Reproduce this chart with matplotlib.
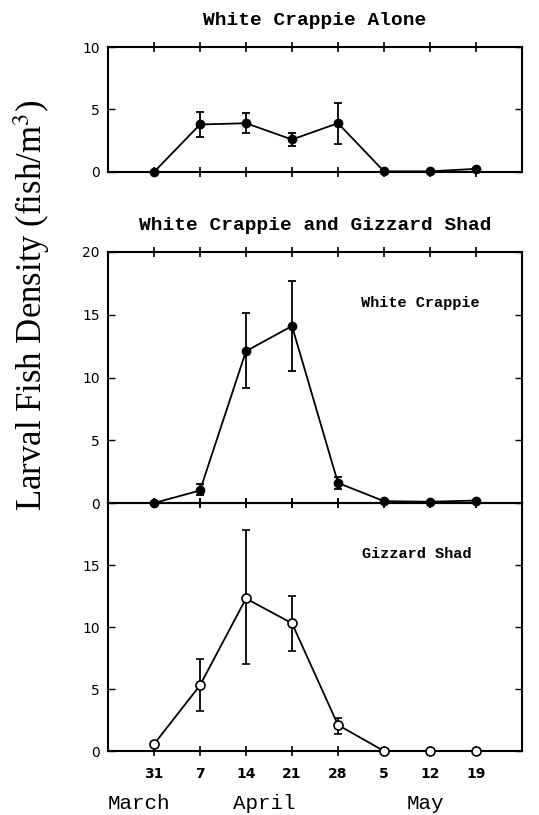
import numpy as np
import matplotlib
matplotlib.use('Agg')
import matplotlib.pyplot as plt

plt.rcParams['mathtext.fontset'] = 'stix'

# sampling dates (weekly, 31 March - 19 May)
dates = ['31', '7', '14', '21', '28', '5', '12', '19']
months = ['March', 'April', 'May']
month_pos = [0.68, 3.4, 6.9]

# White Crappie alone
wc_alone = [0.0, 3.8, 3.9, 2.6, 3.9, 0.05, 0.05, 0.25]
wc_alone_lo = [0.0, 1.0, 0.8, 0.5, 1.7, 0.0, 0.0, 0.0]
wc_alone_hi = [0.0, 1.0, 0.8, 0.5, 1.6, 0.0, 0.0, 0.0]

# White Crappie with Gizzard Shad
wc_mixed = [0.0, 1.0, 12.1, 14.1, 1.6, 0.15, 0.1, 0.2]
wc_mixed_lo = [0.0, 0.4, 2.9, 3.6, 0.45, 0.0, 0.0, 0.0]
wc_mixed_hi = [0.0, 0.55, 3.0, 3.6, 0.45, 0.0, 0.0, 0.0]

# Gizzard Shad with White Crappie
gs_mixed = [0.55, 5.3, 12.3, 10.3, 2.1, 0.0, 0.0, 0.0]
gs_mixed_lo = [0.0, 2.1, 5.3, 2.2, 0.7, 0.0, 0.0, 0.0]
gs_mixed_hi = [0.0, 2.1, 5.5, 2.2, 0.6, 0.0, 0.0, 0.0]

x = np.arange(1, len(dates) + 1)

title_font = 'Liberation Mono'
fig = plt.figure(figsize=(5.39, 8.15), dpi=100)

left, width = 0.2004, 0.768
ax3 = fig.add_axes([left, 0.0785, width, 0.3828 - 0.0785])
ax2 = fig.add_axes([left, 0.3828, width, 0.6908 - 0.3828])
ax1 = fig.add_axes([left, 0.789, width, 0.9423 - 0.789])
for ax in (ax1, ax2, ax3):
    ax.patch.set_visible(False)


def style(ax, ymax, yticks):
    ax.set_xlim(0, 9)
    ax.set_ylim(0, ymax)
    ax.set_xticks(x)
    ax.set_yticks(yticks)
    ax.tick_params(axis='x', direction='inout', length=7, width=1.2, top=True, labelbottom=False)
    ax.tick_params(axis='y', direction='in', length=5, width=1.0, right=True, labelsize=10, pad=6)
    for s in ax.spines.values():
        s.set_linewidth(1.5)


style(ax1, 10, [0, 5, 10])
ax1.errorbar(x, wc_alone, yerr=[wc_alone_lo, wc_alone_hi], color='black', marker='o',
             markersize=6, lw=1.3, capsize=3, elinewidth=1.3, capthick=1.3, clip_on=False)
ax1.set_title('White Crappie Alone', fontsize=14, family=title_font, fontweight='bold', pad=16)

style(ax2, 20, [0, 5, 10, 15, 20])
ax2.errorbar(x, wc_mixed, yerr=[wc_mixed_lo, wc_mixed_hi], color='black', marker='o',
             markersize=6, lw=1.3, capsize=3, elinewidth=1.3, capthick=1.3, clip_on=False)
ax2.set_title('White Crappie and Gizzard Shad', fontsize=14, family=title_font, fontweight='bold', pad=16)
ax2.text(6.78, 15.9, 'White Crappie', ha='center', va='center', fontsize=11,
         family=title_font, fontweight='bold')

style(ax3, 20, [0, 5, 10, 15])
ax3.errorbar(x, gs_mixed, yerr=[gs_mixed_lo, gs_mixed_hi], color='black', marker='o',
             markerfacecolor='white', markeredgewidth=1.2, markersize=6.5, lw=1.3,
             capsize=3, elinewidth=1.3, capthick=1.3, clip_on=False, zorder=3)
ax3.text(6.72, 15.9, 'Gizzard Shad', ha='center', va='center', fontsize=11,
         family=title_font, fontweight='bold')
ax3.tick_params(axis='x', labelbottom=True, labelsize=10, pad=8)
ax3.set_xticklabels(dates)
for lab in ax3.get_xticklabels():
    lab.set_fontweight('bold')
for m, p in zip(months, month_pos):
    ax3.text(p, -0.21, m, transform=ax3.get_xaxis_transform(), ha='center', va='center',
             fontsize=15, family=title_font)

fig.text(0.058, 0.626, r'Larval Fish Density (fish/m$^{3}$)', rotation=90,
         ha='center', va='center', fontsize=25, family='Liberation Serif')

fig.savefig('out.png', dpi=100, facecolor='white')
